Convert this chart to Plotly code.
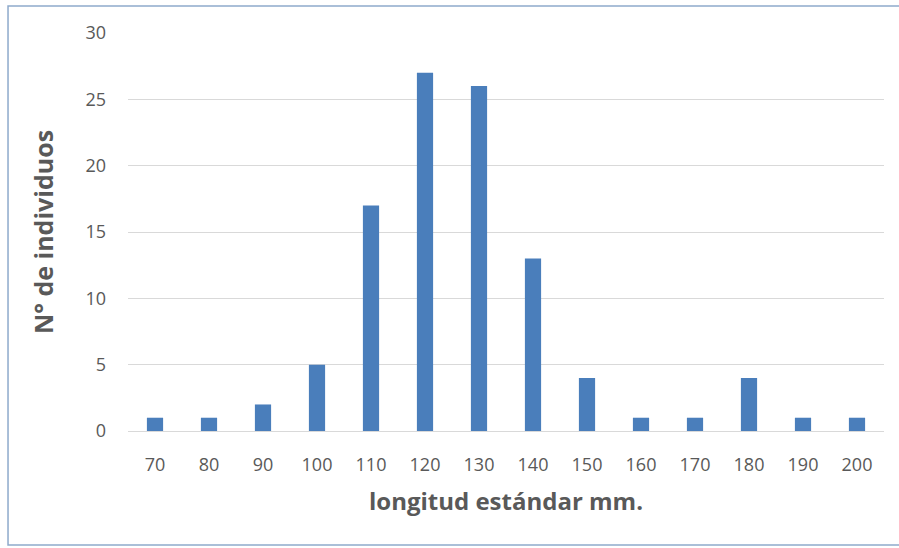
import plotly.graph_objects as go

# Length classes (mm) and number of individuals per class
longitud = ["70", "80", "90", "100", "110", "120", "130", "140",
            "150", "160", "170", "180", "190", "200"]
individuos = [1, 1, 2, 5, 17, 27, 26, 13, 4, 1, 1, 4, 1, 1]
y_ticks = [0, 5, 10, 15, 20, 25, 30]

fig = go.Figure(
    go.Bar(
        x=longitud,
        y=individuos,
        marker=dict(color="#4a7ebb", line=dict(width=0)),
        width=0.3,
    )
)

fig.update_layout(
    width=899,
    height=548,
    margin=dict(l=128, r=15, t=33, b=117),
    paper_bgcolor="white",
    plot_bgcolor="white",
    showlegend=False,
    font=dict(family="Open Sans, sans-serif", color="#595959"),
    xaxis=dict(
        type="category",
        showgrid=False,
        showline=True,
        linecolor="#d9d9d9",
        linewidth=1,
        ticks="",
        tickfont=dict(size=18, color="#595959"),
        ticklabelstandoff=17,
        title=dict(
            text="<b>longitud estándar mm.</b>",
            font=dict(size=24, color="#595959"),
            standoff=18,
        ),
    ),
    yaxis=dict(
        range=[0, 30],
        tickvals=y_ticks,
        showgrid=True,
        gridcolor="#d9d9d9",
        gridwidth=1,
        zeroline=False,
        showline=False,
        ticks="",
        tickfont=dict(size=18, color="#595959"),
        ticklabelstandoff=21,
        title=dict(
            text="<b>N° de individuos</b>",
            font=dict(size=25, color="#595959"),
            standoff=24,
        ),
    ),
    shapes=[
        dict(
            type="rect",
            xref="paper",
            yref="paper",
            x0=-0.1587,
            x1=1.06,
            y0=-0.2864,
            y1=1.0678,
            line=dict(color="#8eaacb", width=1.5),
            fillcolor="rgba(0,0,0,0)",
            layer="below",
        )
    ],
)

fig.write_html("out.html")
